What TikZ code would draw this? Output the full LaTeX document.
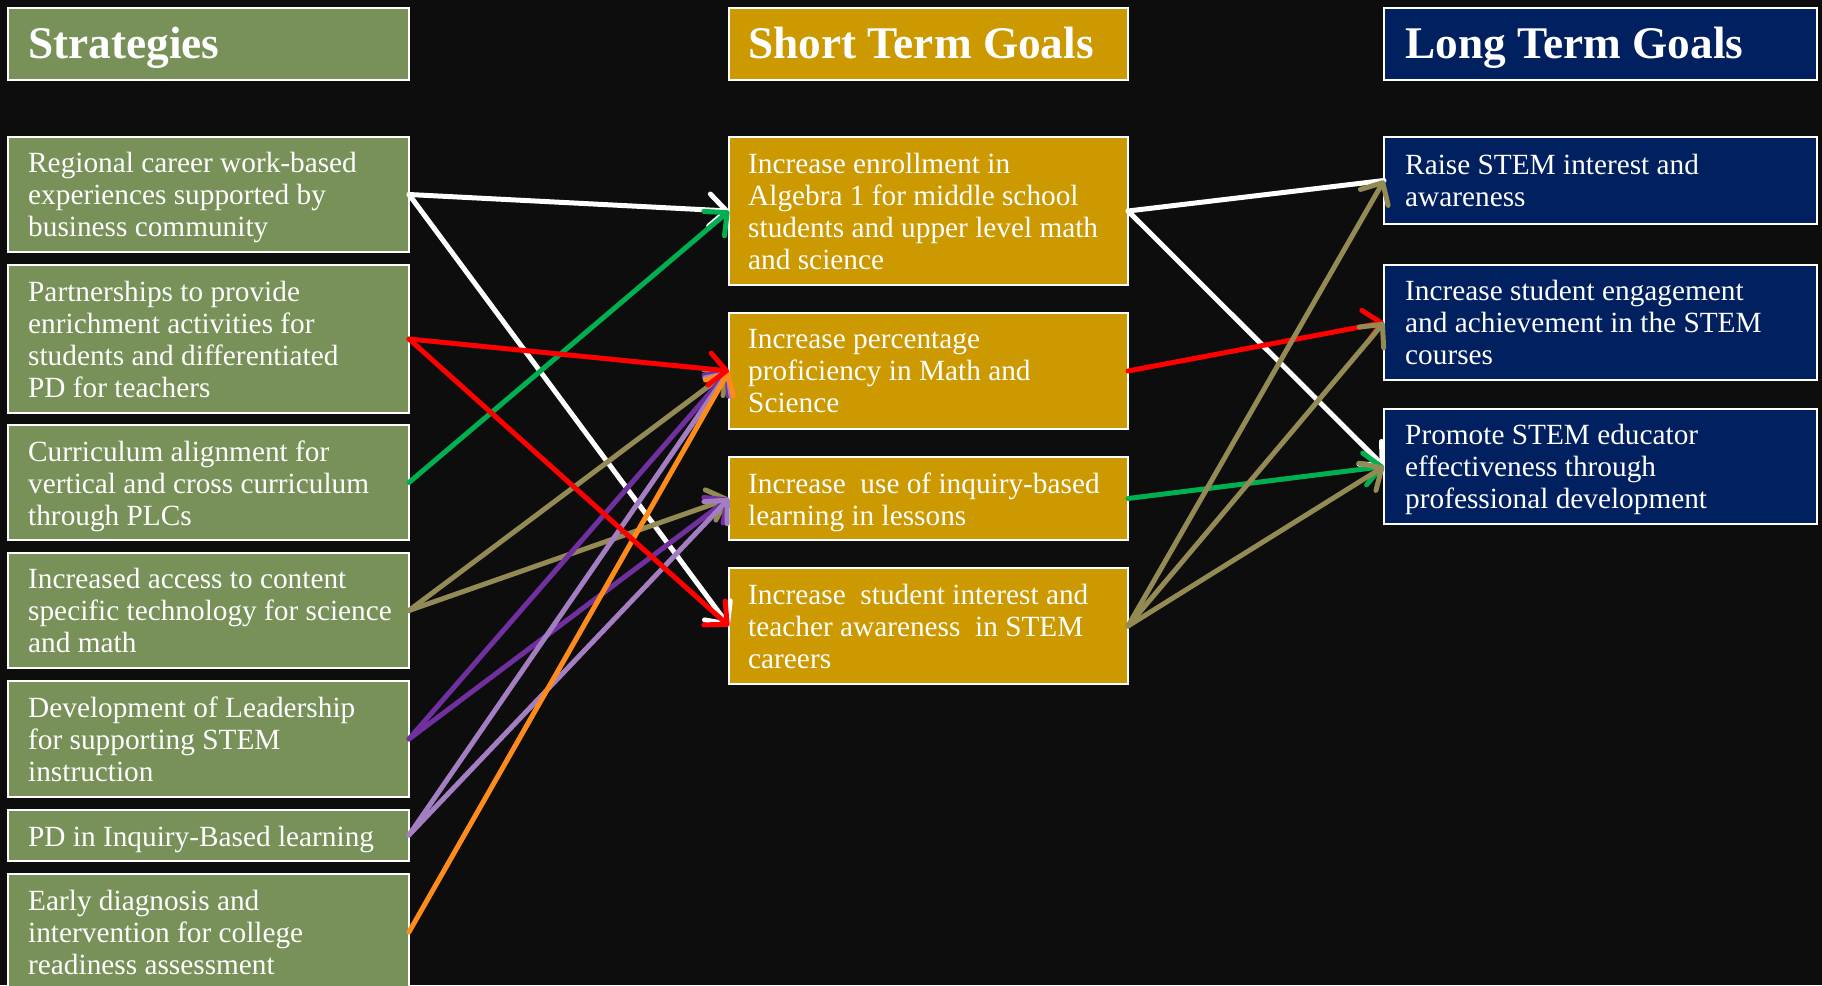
\documentclass[tikz,border=0pt]{standalone}
\usepackage{fontspec}
\setmainfont{Liberation Serif}
\usetikzlibrary{arrows.meta}
\definecolor{bgc}{HTML}{0D0D0D}
\definecolor{sgreen}{HTML}{779159}
\definecolor{sgold}{HTML}{CC9900}
\definecolor{snavy}{HTML}{002060}
\definecolor{cred}{HTML}{FF0000}
\definecolor{cgreen}{HTML}{00B050}
\definecolor{colive}{HTML}{948A54}
\definecolor{cpurple}{HTML}{7030A0}
\definecolor{clav}{HTML}{A47EC2}
\definecolor{corange}{HTML}{FF8C1A}
\begin{document}
\begin{tikzpicture}[x=1pt,y=-1pt,
  box/.style={draw=white, line width=2pt, outer sep=0pt, inner sep=0pt},
  gbox/.style={box, fill=sgreen, minimum width=401pt},
  ybox/.style={box, fill=sgold, minimum width=399pt},
  nbox/.style={box, fill=snavy, minimum width=433pt},
  txt/.style={text=white, align=left, inner sep=0pt, anchor=west, yshift=-5pt,
    font=\fontsize{29.3}{32}\selectfont,
    execute at begin node=\strut, execute at end node=\strut},
  htxt/.style={text=white, align=left, inner sep=0pt, anchor=base west,
    font=\bfseries\fontsize{45.3}{48}\selectfont},
  conn/.style={line width=5pt, line cap=round,
    -{Straight Barb[length=17pt,width=32pt,line cap=round,line join=round]}},
  plainconn/.style={line width=5pt, line cap=round}
]
\useasboundingbox (0,0) rectangle (1822,985);
\clip (0,0) rectangle (1822,985);
\fill[bgc] (0,0) rectangle (1822,985);

% headers
\node[gbox, minimum height=72pt] (hs) at (208.5,44) {};
\node[ybox, minimum height=72pt] (hm) at (928.5,44) {};
\node[nbox, minimum height=72pt] (hl) at (1600.5,44) {};
\node[htxt] (hst) at ([xshift=20pt,yshift=-14pt]hs.west) {Strategies};
\node[htxt] (hmt) at ([xshift=19pt,yshift=-14pt]hm.west) {Short Term Goals};
\node[htxt] (hlt) at ([xshift=21pt,yshift=-14pt]hl.west) {Long Term Goals};

% strategies
\node[gbox, minimum height=115pt] (s1) at (208.5,194.5) {};
\node[gbox, minimum height=148pt] (s2) at (208.5,339) {};
\node[gbox, minimum height=115pt] (s3) at (208.5,482.5) {};
\node[gbox, minimum height=115pt] (s4) at (208.5,610.5) {};
\node[gbox, minimum height=116pt] (s5) at (208.5,739) {};
\node[gbox, minimum height=51pt]  (s6) at (208.5,835) {};
\node[gbox, minimum height=116pt] (s7) at (208.5,932) {};
\node[txt] (s1t) at ([xshift=20pt]s1.west) {Regional career work-based\\experiences supported by\\business community};
\node[txt] (s2t) at ([xshift=20pt]s2.west) {Partnerships to provide\\enrichment activities for\\students and differentiated\\PD for teachers};
\node[txt] (s3t) at ([xshift=20pt]s3.west) {Curriculum alignment for\\vertical and cross curriculum\\through PLCs};
\node[txt] (s4t) at ([xshift=20pt]s4.west) {Increased access to content\\specific technology for science\\and math};
\node[txt] (s5t) at ([xshift=20pt]s5.west) {Development of Leadership\\for supporting STEM\\instruction};
\node[txt] (s6t) at ([xshift=20pt]s6.west) {PD in Inquiry-Based learning};
\node[txt] (s7t) at ([xshift=20pt]s7.west) {Early diagnosis and\\intervention for college\\readiness assessment};

% short term goals
\node[ybox, minimum height=148pt] (m1) at (928.5,211) {};
\node[ybox, minimum height=116pt] (m2) at (928.5,371) {};
\node[ybox, minimum height=83pt]  (m3) at (928.5,498.5) {};
\node[ybox, minimum height=116pt] (m4) at (928.5,626) {};
\node[txt] (m1t) at ([xshift=19pt]m1.west) {Increase enrollment in\\Algebra 1 for middle school\\students and upper level math\\and science};
\node[txt] (m2t) at ([xshift=19pt]m2.west) {Increase percentage\\proficiency in Math and\\Science};
\node[txt] (m3t) at ([xshift=19pt]m3.west) {Increase\ \ use of inquiry-based\\learning in lessons};
\node[txt] (m4t) at ([xshift=19pt]m4.west) {Increase\ \ student interest and\\teacher awareness\ \ in STEM\\careers};

% long term goals
\node[nbox, minimum height=87pt]  (r1) at (1600.5,180.5) {};
\node[nbox, minimum height=115pt] (r2) at (1600.5,322.5) {};
\node[nbox, minimum height=115pt] (r3) at (1600.5,466.5) {};
\node[txt] (r1t) at ([xshift=21pt]r1.west) {Raise STEM interest and\\awareness};
\node[txt] (r2t) at ([xshift=21pt]r2.west) {Increase student engagement\\and achievement in the STEM\\courses};
\node[txt] (r3t) at ([xshift=21pt]r3.west) {Promote STEM educator\\effectiveness through\\professional development};

% connectors: strategies -> short term
\draw[conn, white] (s1.east) -- (m1.west);
\draw[conn, white] (s1.east) -- (m4.west);
\draw[conn, cgreen] (s3.east) -- (m1.west);
\draw[conn, colive] (s4.east) -- (m2.west);
\draw[conn, colive] (s4.east) -- (m3.west);
\draw[conn, cpurple] (s5.east) -- (m2.west);
\draw[conn, cpurple] (s5.east) -- (m3.west);
\draw[conn, clav] (s6.east) -- (m2.west);
\draw[conn, clav] (s6.east) -- (m3.west);
\draw[conn, corange] (s7.east) -- (m2.west);
\draw[conn, cred] (s2.east) -- (m2.west);
\draw[conn, cred] (s2.east) -- (m4.west);

% connectors: short term -> long term
\draw[plainconn, white] (m1.east) -- (r1.west);
\draw[conn, white] (m1.east) -- (r3.west);
\draw[conn, cred] (m2.east) -- (r2.west);
\draw[conn, cgreen] (m3.east) -- (r3.west);
\draw[conn, colive] (m4.east) -- (r1.west);
\draw[conn, colive] (m4.east) -- (r2.west);
\draw[conn, colive] (m4.east) -- (r3.west);
\end{tikzpicture}
\end{document}
